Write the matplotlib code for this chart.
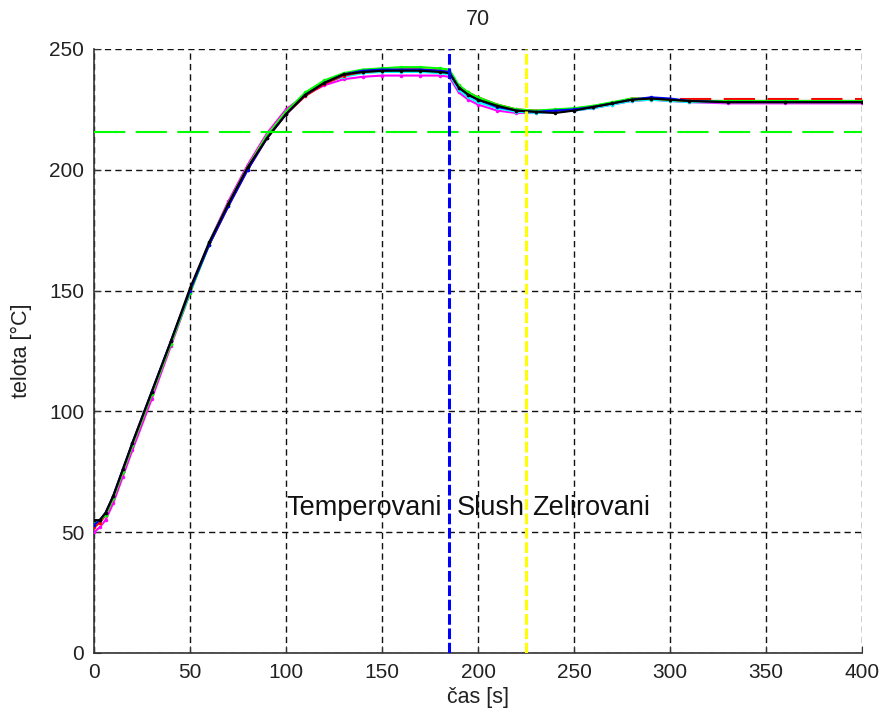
import matplotlib
matplotlib.use("Agg")
import matplotlib.pyplot as plt

plt.rcParams['font.family'] = ['Liberation Sans', 'DejaVu Sans']

t = [0, 3, 6, 10, 15, 20, 30, 40, 50, 60, 70, 80, 90, 100, 110, 120, 130, 140, 150,
     160, 170, 180, 185, 190, 195, 200, 210, 220, 230, 240, 250, 260, 270, 280, 290,
     300, 310, 330, 360, 400]

series_k = [55, 55, 58, 65, 76, 87, 108, 129, 151, 170, 186, 201, 213, 223, 231, 236, 239.5, 240.5, 241,
            241, 241, 240.5, 240, 234, 231, 229, 226.5, 224.5, 224, 223.5, 224.5, 226, 227.5, 229, 229.5,
            229, 228.5, 228, 228, 228]
series_b = [53, 55, 58, 65, 76, 87, 108, 129, 150, 169, 185, 200, 213, 223, 231, 236, 239.5, 241, 241.5,
            241.5, 241.5, 241, 240.5, 234, 231, 229, 226, 224.5, 224, 224.5, 225, 226, 227.5, 229, 230,
            229.5, 228.5, 228, 228, 228]
series_g = [54, 55, 57, 64, 75, 86, 107, 128, 149, 169, 186, 201, 214, 224, 232, 237, 240, 241.5, 242,
            242.5, 242.5, 242, 241.5, 235, 232, 230, 227, 225, 224.5, 225, 225.5, 226.5, 228, 229.5, 229.5,
            229, 228.5, 228.5, 228.5, 228.5]
series_r = [52, 54, 57, 64, 75, 86, 107, 128, 150, 169, 185, 200, 213, 223, 230.5, 235.5, 239, 240.5, 241,
            241.5, 241.5, 241, 240.5, 234.5, 232, 230, 227, 225, 224.5, 224.5, 225, 226, 227.5, 229.5, 229.5,
            229, 228.5, 228.5, 228.5, 228.5]
series_c = [53, 54, 57, 64, 75, 86, 107, 128, 150, 170, 186, 201, 214, 224, 231, 236, 238.5, 240, 240.5,
            240.5, 240.5, 240, 239.5, 233, 230, 228, 225.5, 224, 223.5, 224, 224.5, 225.5, 227, 228.5, 229,
            228.5, 228, 228, 228, 228]
series_y = [52, 54, 57, 64, 75, 86, 107, 128, 150, 169, 186, 201, 214, 224, 231.5, 236.5, 239.5, 241, 241.5,
            242, 242, 241.5, 241, 234.5, 231.5, 229.5, 226.5, 224.5, 224, 224.5, 225, 226, 227.5, 229, 229.5,
            229, 228.5, 228, 228, 228]
series_m = [50, 52, 55, 62, 73, 84, 105, 127, 149, 170, 187, 202, 215, 225, 231, 235, 237.5, 238.5, 239,
            239, 239, 239, 238.5, 232, 229, 227, 224.5, 223.5, 223.5, 224, 224.5, 225.5, 227, 228.5, 229,
            228.5, 228, 227.5, 227.5, 227.5]

series_list = [(series_m, 'm'), (series_c, 'c'), (series_y, 'y'), (series_r, 'r'),
               (series_g, 'g'), (series_b, 'b'), (series_k, 'k')]
colors = {'k': '#000000', 'b': '#0000ff', 'g': '#00ff00', 'r': '#ff0000',
          'c': '#00ffff', 'm': '#ff00ff', 'y': '#ffff00'}

green_ref_x = [0, 400]
green_ref_y = [215.5, 215.5]
red_ref_x = [305, 400]
red_ref_y = [229.5, 229.5]
blue_x = 185
yellow_x = 225

labels = ['Temperovani', 'Slush', 'Zelirovani']
label_x = [100, 189, 228]
label_y = 60

xticks = [0, 50, 100, 150, 200, 250, 300, 350, 400]
yticks = [0, 50, 100, 150, 200, 250]

fig = plt.figure(figsize=(8.82, 7.16), dpi=100)
ax = fig.add_axes([94/882, 63/716, 768/882, 604/716])

for s, c in series_list:
    ax.plot(t, s, color=colors[c], lw=1.5, marker='.', markersize=3, zorder=3)

ax.plot(green_ref_x, green_ref_y, color='#00ff00', lw=1.5, dashes=(15, 5), zorder=4)
ax.plot(red_ref_x, red_ref_y, color='#ff0000', lw=1.5, dashes=(15, 6), zorder=2)
ax.axvline(blue_x, color='#0000ff', lw=2.2, dashes=(3.5, 1.2), zorder=5)
ax.axvline(yellow_x, color='#ffff00', lw=2.2, dashes=(3.5, 1.2), zorder=5)

for lab, lx in zip(labels, label_x):
    ax.text(lx, label_y, lab, fontsize=19.5, ha='left', va='center', color='#111111', zorder=6)

ax.set_xlim(0, 400)
ax.set_ylim(0, 250)
ax.set_xticks(xticks)
ax.set_yticks(yticks)
ax.grid(True, color='#111111', lw=1.0, linestyle=(0, (4.5, 3.0)))
ax.set_axisbelow(True)
for side in ['top', 'right']:
    ax.spines[side].set_visible(False)
for side in ['left', 'bottom']:
    ax.spines[side].set_color('#333333')
    ax.spines[side].set_linewidth(1.2)
ax.tick_params(direction='in', length=5, labelsize=15, colors='#333333', labelcolor='#222222', pad=7)
ax.set_xlabel('čas [s]', fontsize=15.5, color='#222222', labelpad=4)
ax.set_ylabel('telota [°C]', fontsize=15.5, color='#222222', labelpad=12)
ax.set_title('70', fontsize=15.5, color='#222222', pad=17)

fig.savefig('out.png', dpi=100, facecolor='white')
